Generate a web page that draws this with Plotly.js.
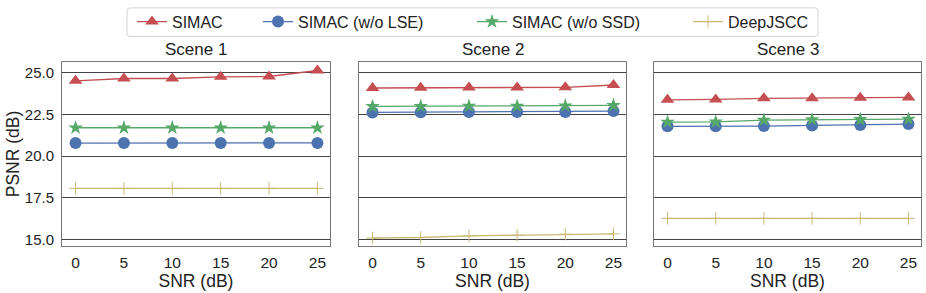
<!DOCTYPE html>
<html>
<head>
<meta charset="utf-8">
<script src="https://cdn.plot.ly/plotly-3.0.1.min.js"></script>
<style>html,body{margin:0;padding:0;background:#fff;}#chart{width:926px;height:293px;}</style>
</head>
<body>
<div id="chart"></div>
<script>
const snr = [0, 5, 10, 15, 20, 25];
const sceneTitles = ["Scene 1", "Scene 2", "Scene 3"];
const seriesNames = ["SIMAC", "SIMAC (w/o LSE)", "SIMAC (w/o SSD)", "DeepJSCC"];

const scene1_simac   = [24.52, 24.66, 24.66, 24.76, 24.78, 25.14];
const scene1_noLSE   = [20.78, 20.78, 20.78, 20.78, 20.78, 20.79];
const scene1_noSSD   = [21.70, 21.70, 21.70, 21.70, 21.70, 21.70];
const scene1_deep    = [18.06, 18.06, 18.06, 18.06, 18.06, 18.06];

const scene2_simac   = [24.09, 24.10, 24.12, 24.12, 24.13, 24.27];
const scene2_noLSE   = [22.62, 22.63, 22.65, 22.65, 22.65, 22.70];
const scene2_noSSD   = [22.98, 22.99, 23.00, 23.00, 23.02, 23.05];
const scene2_deep    = [15.08, 15.11, 15.21, 15.25, 15.31, 15.33];

const scene3_simac   = [23.38, 23.40, 23.47, 23.48, 23.50, 23.52];
const scene3_noLSE   = [21.79, 21.79, 21.80, 21.84, 21.86, 21.92];
const scene3_noSSD   = [22.04, 22.05, 22.16, 22.19, 22.20, 22.22];
const scene3_deep    = [16.26, 16.26, 16.26, 16.26, 16.26, 16.26];

const yTickVals = [15.0, 17.5, 20.0, 22.5, 25.0];
const yTickText = ["15.0", "17.5", "20.0", "22.5", "25.0"];

const scenes = [
  [scene1_simac, scene1_noLSE, scene1_noSSD, scene1_deep],
  [scene2_simac, scene2_noLSE, scene2_noSSD, scene2_deep],
  [scene3_simac, scene3_noLSE, scene3_noSSD, scene3_deep]
];

const colors = ["#C44E52", "#4C72B0", "#55A868", "#CCB974"];
const markers = [
  {symbol: "triangle-up", size: 12},
  {symbol: "circle", size: 12},
  {symbol: "star", size: 11},
  {symbol: "cross-thin", size: 9}
];

const FONT = "Liberation Sans, Arial, sans-serif";
const W = 926, H = 293, ML = 62, MR = 5, MT = 59, MB = 47;
const PW = W - ML - MR, PH = H - MT - MB;
const px2x = p => (p - ML) / PW;
const px2y = p => 1 + (MT - p) / PH;

const legendNames = ["legend", "legend2", "legend3", "legend4"];
// left edge (px) of each legend handle, legend row centre (px)
const legendHandleLeft = [137, 263, 477, 693];
const legendRowY = 18;

const traces = [];
scenes.forEach((sc, si) => {
  sc.forEach((vals, k) => {
    const ax = si === 0 ? "" : String(si + 1);
    const m = markers[k];
    const marker = {symbol: m.symbol, size: m.size, color: colors[k]};
    if (m.symbol === "cross-thin") marker.line = {color: colors[k], width: 1};
    traces.push({
      x: snr, y: vals, type: "scatter", mode: "lines+markers",
      name: seriesNames[k], showlegend: si === 0, legend: legendNames[k],
      xaxis: "x" + ax, yaxis: "y" + ax,
      line: {color: colors[k], width: 1.3},
      marker: marker
    });
  });
});

const domains = [[0, 0.312], [0.3458, 0.6566], [0.6892, 1.0]];
const layout = {
  width: W, height: H,
  margin: {l: ML, r: MR, t: MT, b: MB},
  paper_bgcolor: "#fff", plot_bgcolor: "#fff",
  font: {family: FONT, size: 15, color: "#222"},
  showlegend: true,
  annotations: [],
  shapes: []
};
legendNames.forEach((ln, k) => {
  layout[ln] = {
    orientation: "h", x: px2x(legendHandleLeft[k] - 5), xanchor: "left",
    y: px2y(legendRowY), yanchor: "middle",
    bgcolor: "rgba(0,0,0,0)", borderwidth: 0,
    font: {size: 16, family: FONT, color: "#222"}
  };
});
// rounded legend frame
(function () {
  const x0 = 127, x1 = 818, y0 = 4, y1 = 33, r = 3;
  const X = px2x, Y = px2y;
  const path = [
    "M", X(x0 + r), Y(y0),
    "L", X(x1 - r), Y(y0),
    "Q", X(x1), Y(y0), X(x1), Y(y0 + r),
    "L", X(x1), Y(y1 - r),
    "Q", X(x1), Y(y1), X(x1 - r), Y(y1),
    "L", X(x0 + r), Y(y1),
    "Q", X(x0), Y(y1), X(x0), Y(y1 - r),
    "L", X(x0), Y(y0 + r),
    "Q", X(x0), Y(y0), X(x0 + r), Y(y0), "Z"
  ];
  let d = "";
  for (let i = 0; i < path.length; i++) {
    const t = path[i];
    if (typeof t === "string") d += t;
    else d += t.toFixed(5) + ((typeof path[i + 1] === "number") ? "," : " ");
  }
  layout.shapes.push({type: "path", xref: "paper", yref: "paper", path: d,
    line: {color: "#d4d4d4", width: 1}, fillcolor: "rgba(0,0,0,0)", layer: "below"});
})();

for (let i = 0; i < 3; i++) {
  const s = i === 0 ? "" : String(i + 1);
  layout["xaxis" + s] = {
    domain: domains[i], anchor: "y" + s, range: [-1.4, 26.3],
    tickvals: snr, ticktext: snr.map(String),
    ticks: "outside", ticklen: 2, tickcolor: "rgba(0,0,0,0)",
    showgrid: false, zeroline: false,
    showline: true, mirror: true, linecolor: "#777", linewidth: 1,
    tickfont: {size: 15.5, family: FONT, color: "#222"},
    title: {text: "SNR (dB)", font: {size: 17.5, family: FONT, color: "#222"}, standoff: 0}
  };
  layout["yaxis" + s] = {
    domain: [0, 1], anchor: "x" + s, range: [14.6, 25.65],
    tickvals: yTickVals, ticktext: yTickText, showticklabels: i === 0,
    ticks: "outside", ticklen: 4, tickcolor: "rgba(0,0,0,0)",
    showgrid: true, gridcolor: "#444", gridwidth: 1, zeroline: false,
    showline: true, mirror: true, linecolor: "#777", linewidth: 1,
    tickfont: {size: 15, family: FONT, color: "#222"}
  };
  if (i === 0) layout.yaxis.title = {text: "PSNR (dB)", font: {size: 17.5, family: FONT, color: "#222"}, standoff: 0};
  layout.annotations.push({
    text: sceneTitles[i], xref: "paper", yref: "paper",
    x: (domains[i][0] + domains[i][1]) / 2, y: 1.0, yshift: 1,
    xanchor: "center", yanchor: "bottom", showarrow: false,
    font: {size: 17, family: FONT, color: "#222"}
  });
}

Plotly.newPlot("chart", traces, layout, {displayModeBar: false, staticPlot: true});
</script>
</body>
</html>
